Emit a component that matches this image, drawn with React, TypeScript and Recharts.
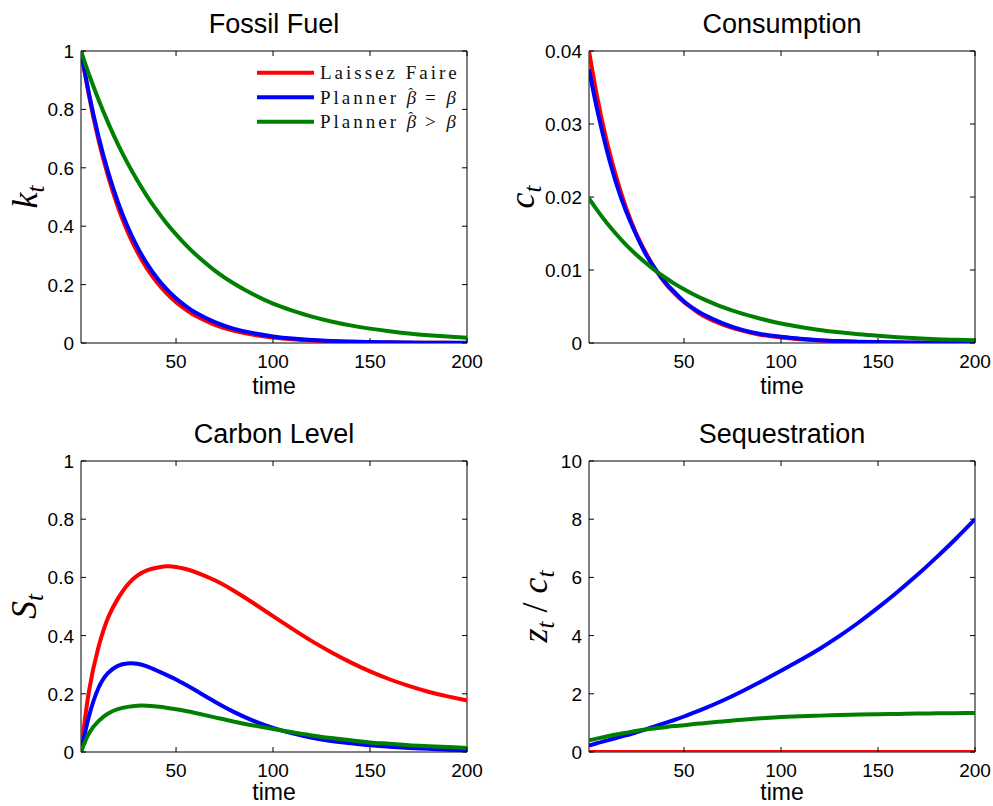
import React from 'react';
import { LineChart, Line, XAxis, YAxis, ReferenceArea, Legend } from 'recharts';

// ---------- data ----------
const time = [1, 5, 10, 15, 20, 25, 30, 35, 40, 45, 50, 55, 60, 70, 80, 90, 100, 110, 120, 130, 140, 150, 160, 170, 180, 190, 200];

const fossilLaissez = [1, 0.851, 0.696, 0.57, 0.466, 0.381, 0.312, 0.255, 0.2085, 0.1706, 0.1395, 0.1141, 0.0933, 0.0624, 0.0418, 0.0279, 0.0187, 0.0125, 0.0084, 0.0056, 0.0037, 0.0025, 0.0017, 0.0011, 0.00075, 0.0005, 0.00034];
const fossilPlannerEq = [1, 0.858, 0.708, 0.585, 0.483, 0.399, 0.329, 0.272, 0.2245, 0.1854, 0.1531, 0.1264, 0.1044, 0.0712, 0.0485, 0.0331, 0.0226, 0.0154, 0.0105, 0.0071, 0.0049, 0.0033, 0.0023, 0.0015, 0.00105, 0.0007, 0.0005];
const fossilPlannerGt = [1, 0.922, 0.834, 0.754, 0.681, 0.616, 0.557, 0.503, 0.455, 0.411, 0.372, 0.336, 0.304, 0.248, 0.203, 0.166, 0.135, 0.111, 0.0904, 0.0738, 0.0603, 0.0493, 0.0403, 0.0329, 0.0269, 0.022, 0.018];

const consLaissez = [0.04, 0.034, 0.0278, 0.0228, 0.0186, 0.0152, 0.0125, 0.0102, 0.0083, 0.0068, 0.0056, 0.0046, 0.0037, 0.0025, 0.0017, 0.0011, 0.00075, 0.0005, 0.00034, 0.00022, 0.00015, 0.0001, 0.00007, 0.00004, 0.00003, 0.00002, 0.00001];
const consPlannerEq = [0.0375, 0.0322, 0.0266, 0.0219, 0.0181, 0.015, 0.0123, 0.0102, 0.0084, 0.007, 0.0057, 0.0047, 0.0039, 0.0027, 0.0018, 0.0012, 0.00085, 0.00058, 0.00039, 0.00027, 0.00018, 0.00012, 0.00009, 0.00006, 0.00004, 0.00003, 0.00002];
const consPlannerGt = [0.0198, 0.01826, 0.01651, 0.01493, 0.01348, 0.0122, 0.01103, 0.00996, 0.00901, 0.00814, 0.00737, 0.00665, 0.00602, 0.00491, 0.00402, 0.00329, 0.00267, 0.0022, 0.00179, 0.00146, 0.00119, 0.00098, 0.0008, 0.00065, 0.00053, 0.00044, 0.00036];

const carbonLaissez = [0, 0.205, 0.36, 0.462, 0.527, 0.575, 0.606, 0.624, 0.633, 0.638, 0.636, 0.629, 0.618, 0.59, 0.553, 0.511, 0.467, 0.423, 0.381, 0.343, 0.308, 0.277, 0.25, 0.227, 0.207, 0.191, 0.177];
const carbonPlannerEq = [0, 0.12, 0.22, 0.272, 0.296, 0.304, 0.303, 0.294, 0.28, 0.265, 0.249, 0.231, 0.212, 0.173, 0.137, 0.107, 0.083, 0.064, 0.049, 0.038, 0.03, 0.023, 0.018, 0.014, 0.011, 0.008, 0.006];
const carbonPlannerGt = [0, 0.063, 0.106, 0.132, 0.147, 0.155, 0.159, 0.159, 0.156, 0.152, 0.147, 0.141, 0.134, 0.119, 0.104, 0.091, 0.079, 0.068, 0.057, 0.048, 0.04, 0.033, 0.028, 0.023, 0.02, 0.017, 0.014];

const seqLaissez = [0, 0, 0, 0, 0, 0, 0, 0, 0, 0, 0, 0, 0, 0, 0, 0, 0, 0, 0, 0, 0, 0, 0, 0, 0, 0, 0];
const seqPlannerEq = [0.22, 0.3, 0.39, 0.48, 0.57, 0.67, 0.77, 0.88, 0.99, 1.1, 1.22, 1.35, 1.48, 1.77, 2.09, 2.43, 2.79, 3.16, 3.55, 3.98, 4.45, 4.96, 5.5, 6.07, 6.68, 7.32, 8.0];
const seqPlannerGt = [0.4, 0.46, 0.53, 0.6, 0.66, 0.72, 0.77, 0.81, 0.85, 0.89, 0.92, 0.96, 0.99, 1.05, 1.11, 1.16, 1.2, 1.23, 1.25, 1.27, 1.285, 1.3, 1.31, 1.32, 1.33, 1.335, 1.34];

const xTicks = [50, 100, 150, 200];
const unitTicks = [0, 0.2, 0.4, 0.6, 0.8, 1];
const consumptionTicks = [0, 0.01, 0.02, 0.03, 0.04];
const sequestrationTicks = [0, 2, 4, 6, 8, 10];

const seriesNames = ['Laissez Faire', 'Planner β̂ = β', 'Planner β̂ > β'];
const seriesColors = ['#ff0000', '#0000ff', '#008000'];

// ---------- styling / layout ----------
const SANS = "'Liberation Sans', Arial, Helvetica, sans-serif";
const SERIF = "'Liberation Serif', 'Times New Roman', serif";
const TOP = 51;
const PLOT_W = 386;
const X_AXIS_H = 58;
const RIGHT = 20;
const TICK = 5;
const LINE_W = 4;

type PanelProps = {
  plotLeft: number;
  plotTop: number;
  yAxisW: number;
  plotH: number;
  title: string;
  yLabel: React.ReactNode;
  yLabelOffset: number;
  xLabelGap: number;
  yMax: number;
  yTicks: number[];
  laissez: number[];
  eq: number[];
  gt: number[];
  legend?: boolean;
};

// legend label: "Planner" + italic hatted beta + relation + italic beta
const legendLabel = (i: number) => {
  if (i === 0) return <tspan>{seriesNames[0]}</tspan>;
  const rel = i === 1 ? '=' : '>';
  return (
    <>
      <tspan>{'Planner '}</tspan>
      <tspan fontStyle="italic">β</tspan>
      <tspan dx={-11} dy={-6} fontSize={15}>
        ˆ
      </tspan>
      <tspan dx={1} dy={6}>
        {' ' + rel + ' '}
      </tspan>
      <tspan fontStyle="italic">β</tspan>
    </>
  );
};

const renderLegend = () => (
  <svg width={215} height={80} style={{ display: 'block', overflow: 'visible' }}>
    {seriesNames.map((name, i) => {
      const y = 14.7 + i * 24.5;
      return (
        <g key={name}>
          <line x1={7} x2={64} y1={y} y2={y} stroke={seriesColors[i]} strokeWidth={LINE_W} />
          <text x={70} y={y + 6.5} fontFamily={SERIF} fontSize={19} letterSpacing={3} fill="#111">
            {legendLabel(i)}
          </text>
        </g>
      );
    })}
  </svg>
);

function Panel(p: PanelProps) {
  const { plotLeft, plotTop, yAxisW, plotH, title, yLabel, yLabelOffset, xLabelGap, yMax, yTicks, laissez, eq, gt, legend } = p;
  const data = time.map((t, i) => ({ t, laissez: laissez[i], eq: eq[i], gt: gt[i] }));

  const xTick = (props: any) => {
    const { x, y, payload } = props;
    return (
      <g>
        <line x1={x} y1={y} x2={x} y2={y - TICK} stroke="#000" strokeWidth={1} />
        <line x1={x} y1={y - plotH} x2={x} y2={y - plotH + TICK} stroke="#000" strokeWidth={1} />
        <text x={x} y={y + 25} textAnchor="middle" fontFamily={SANS} fontSize={19} fill="#000">
          {payload.value}
        </text>
      </g>
    );
  };

  const yTick = (props: any) => {
    const { x, y, payload } = props;
    return (
      <g>
        <line x1={x} y1={y} x2={x + TICK} y2={y} stroke="#000" strokeWidth={1} />
        <line x1={x + PLOT_W} y1={y} x2={x + PLOT_W - TICK} y2={y} stroke="#000" strokeWidth={1} />
        <text x={x - 7} y={y + 7} textAnchor="end" fontFamily={SANS} fontSize={19} fill="#000">
          {String(payload.value)}
        </text>
      </g>
    );
  };

  const yLabelRender = () => {
    const cx = yAxisW + yLabelOffset;
    const cy = TOP + plotH / 2;
    return (
      <g>
        <text x={yAxisW + PLOT_W / 2} y={TOP - 18} textAnchor="middle" fontFamily={SANS} fontSize={27} fill="#000">
          {title}
        </text>
        <text
          x={cx}
          y={cy}
          transform={`rotate(-90 ${cx} ${cy})`}
          textAnchor="middle"
          fontFamily={SERIF}
          fontStyle="italic"
          fontSize={36}
          fill="#000"
        >
          {yLabel}
        </text>
      </g>
    );
  };

  const xLabelRender = () => (
    <text x={yAxisW + PLOT_W / 2} y={TOP + plotH + xLabelGap} textAnchor="middle" fontFamily={SANS} fontSize={23} fill="#000">
      time
    </text>
  );

  return (
    <div style={{ position: 'absolute', left: plotLeft - yAxisW, top: plotTop - TOP }}>
      <LineChart
        width={yAxisW + PLOT_W + RIGHT}
        height={TOP + plotH + X_AXIS_H}
        data={data}
        margin={{ top: TOP, right: RIGHT, left: 0, bottom: 0 }}
      >
        <XAxis
          dataKey="t"
          type="number"
          domain={[1, 200]}
          ticks={xTicks}
          interval={0}
          tickSize={0}
          tickMargin={0}
          axisLine={false}
          tickLine={false}
          tick={xTick}
          height={X_AXIS_H}
          label={xLabelRender}
          allowDataOverflow
        />
        <YAxis
          type="number"
          domain={[0, yMax]}
          ticks={yTicks}
          interval={0}
          tickSize={0}
          tickMargin={0}
          axisLine={false}
          tickLine={false}
          tick={yTick}
          width={yAxisW}
          label={yLabelRender}
          allowDataOverflow
        />
        <ReferenceArea x1={1} x2={200} y1={0} y2={yMax} fill="none" fillOpacity={0} stroke="#000" strokeWidth={1} />
        <Line type="natural" dataKey="laissez" name={seriesNames[0]} stroke={seriesColors[0]} strokeWidth={LINE_W} dot={false} isAnimationActive={false} />
        <Line type="natural" dataKey="eq" name={seriesNames[1]} stroke={seriesColors[1]} strokeWidth={LINE_W} dot={false} isAnimationActive={false} />
        <Line type="natural" dataKey="gt" name={seriesNames[2]} stroke={seriesColors[2]} strokeWidth={LINE_W} dot={false} isAnimationActive={false} />
        {legend ? (
          <Legend
            layout="vertical"
            align="center"
            verticalAlign="middle"
            content={renderLegend}
            wrapperStyle={{ position: 'absolute', left: 250, top: 58, width: 215, height: 80 }}
          />
        ) : null}
      </LineChart>
    </div>
  );
}

const subT = (
  <tspan fontSize={25} dy={7}>
    t
  </tspan>
);

export default function App() {
  return (
    <div style={{ position: 'absolute', left: 0, top: 0, width: 993, height: 806, background: '#fff', overflow: 'hidden' }}>
      <Panel
        plotLeft={81}
        plotTop={51}
        yAxisW={81}
        plotH={292}
        title="Fossil Fuel"
        yLabel={<>k{subT}</>}
        yLabelOffset={-44}
        xLabelGap={51}
        yMax={1}
        yTicks={unitTicks}
        laissez={fossilLaissez}
        eq={fossilPlannerEq}
        gt={fossilPlannerGt}
        legend
      />
      <Panel
        plotLeft={589}
        plotTop={51}
        yAxisW={120}
        plotH={292}
        title="Consumption"
        yLabel={<>c{subT}</>}
        yLabelOffset={-55}
        xLabelGap={51}
        yMax={0.04}
        yTicks={consumptionTicks}
        laissez={consLaissez}
        eq={consPlannerEq}
        gt={consPlannerGt}
      />
      <Panel
        plotLeft={81}
        plotTop={461}
        yAxisW={81}
        plotH={291}
        title="Carbon Level"
        yLabel={<>S{subT}</>}
        yLabelOffset={-45}
        xLabelGap={48}
        yMax={1}
        yTicks={unitTicks}
        laissez={carbonLaissez}
        eq={carbonPlannerEq}
        gt={carbonPlannerGt}
      />
      <Panel
        plotLeft={589}
        plotTop={461}
        yAxisW={120}
        plotH={291}
        title="Sequestration"
        yLabel={
          <>
            z
            <tspan fontSize={25} dy={7}>
              t
            </tspan>
            <tspan dy={-7} fontStyle="normal">
              {' / '}
            </tspan>
            c
            <tspan fontSize={25} dy={7}>
              t
            </tspan>
          </>
        }
        yLabelOffset={-42}
        xLabelGap={48}
        yMax={10}
        yTicks={sequestrationTicks}
        laissez={seqLaissez}
        eq={seqPlannerEq}
        gt={seqPlannerGt}
      />
    </div>
  );
}
